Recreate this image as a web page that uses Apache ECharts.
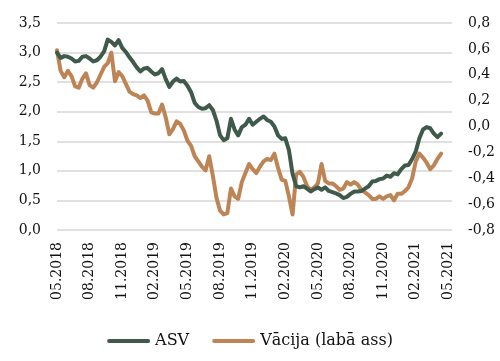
<!DOCTYPE html>
<html>
<head>
<meta charset="utf-8">
<script src="https://cdn.jsdelivr.net/npm/echarts@6/dist/echarts.min.js"></script>
<style>
html,body{margin:0;padding:0;background:#fff;}
#chart{width:500px;height:361px;}
</style>
</head>
<body>
<div id="chart"></div>
<script>
// Tick labels (every 3 months)
var tickLabels = ['05.2018','08.2018','11.2018','02.2019','05.2019','08.2019','11.2019',
  '02.2020','05.2020','08.2020','11.2020','02.2021','05.2021'];

// Categories: ten-day steps from 05.2018 to just past 05.2021
var categories = [];
(function(){
  var y = 2018, m = 5;
  for (var k = 0; k < 37; k++) {
    var days = ['01','11','21'];
    for (var d = 0; d < 3; d++) {
      categories.push(y + '-' + (m < 10 ? '0' + m : m) + '-' + days[d]);
    }
    m++; if (m > 12) { m = 1; y++; }
  }
  categories = categories.slice(0, 110);
})();

// ASV (left axis)
var asv = [3.00,2.91,2.94,2.93,2.90,2.85,2.86,2.93,2.94,2.90,
  2.85,2.87,2.93,3.02,3.22,3.18,3.12,3.21,3.08,3.01,
  2.92,2.84,2.75,2.68,2.73,2.74,2.68,2.63,2.65,2.72,
  2.55,2.42,2.51,2.56,2.51,2.52,2.44,2.33,2.15,2.08,
  2.05,2.06,2.11,2.03,1.85,1.60,1.52,1.55,1.88,1.70,
  1.60,1.74,1.78,1.88,1.78,1.83,1.88,1.92,1.86,1.83,
  1.75,1.60,1.54,1.55,1.35,0.95,0.74,0.72,0.74,0.70,
  0.65,0.69,0.72,0.68,0.72,0.66,0.64,0.62,0.59,0.54,
  0.56,0.61,0.65,0.65,0.66,0.70,0.74,0.82,0.83,0.86,
  0.87,0.92,0.90,0.96,0.94,1.03,1.09,1.10,1.20,1.33,
  1.55,1.70,1.74,1.72,1.63,1.57,1.63];

// Vācija (right axis)
var vacija = [0.59,0.43,0.38,0.43,0.39,0.31,0.30,0.37,0.41,0.32,
  0.30,0.34,0.40,0.46,0.49,0.57,0.35,0.42,0.39,0.33,
  0.27,0.25,0.24,0.22,0.24,0.20,0.11,0.10,0.10,0.17,
  0.07,-0.06,-0.02,0.04,0.02,-0.03,-0.11,-0.15,-0.23,-0.27,
  -0.31,-0.34,-0.23,-0.38,-0.55,-0.65,-0.68,-0.67,-0.48,-0.54,
  -0.56,-0.43,-0.36,-0.29,-0.33,-0.36,-0.31,-0.27,-0.25,-0.26,
  -0.21,-0.32,-0.41,-0.42,-0.54,-0.68,-0.37,-0.35,-0.39,-0.46,
  -0.49,-0.47,-0.44,-0.29,-0.42,-0.44,-0.44,-0.46,-0.49,-0.48,
  -0.43,-0.45,-0.43,-0.45,-0.49,-0.51,-0.53,-0.56,-0.56,-0.54,
  -0.56,-0.54,-0.53,-0.57,-0.52,-0.52,-0.50,-0.47,-0.40,-0.27,
  -0.21,-0.24,-0.28,-0.33,-0.30,-0.25,-0.21];

var seriesNames = ['ASV', 'Vācija (labā ass)'];
var colors = ['#3f5a4b', '#bd8555'];

var font = 'DejaVu Serif';
function fmt(v){ return v.toFixed(1).replace('.', ','); }
var capsule = 'path://M2,0H41A2,2,0,0,1,41,4H2A2,2,0,0,1,2,0Z';

var chart = echarts.init(document.getElementById('chart'), null, {renderer:'canvas'});
chart.setOption({
  animation: false,
  backgroundColor: '#fff',
  grid: {left: 57, right: 48, top: 23, bottom: 131, containLabel: false},
  legend: {
    top: 326, left: 'center',
    itemWidth: 43, itemHeight: 4, itemGap: 23,
    data: [{name: seriesNames[0], icon: capsule}, {name: seriesNames[1], icon: capsule}],
    textStyle: {fontFamily: font, fontSize: 16, color: '#111', lineHeight: 20}
  },
  xAxis: {
    type: 'category', data: categories, boundaryGap: false,
    axisLine: {show: false}, axisTick: {show: false},
    splitLine: {show: false},
    axisLabel: {
      rotate: 90, margin: 12, fontFamily: font, fontSize: 14, color: '#111',
      interval: function(i){ return i % 9 === 0 && i <= 108; },
      formatter: function(v, i){ return tickLabels[Math.round(i / 9)] || ''; }
    }
  },
  yAxis: [
    {type: 'value', min: 0, max: 3.5, interval: 0.5,
     axisLine: {show: false}, axisTick: {show: false},
     splitLine: {lineStyle: {color: '#d6d6d6', width: 1.5}},
     axisLabel: {margin: 16, fontFamily: font, fontSize: 14, color: '#111', formatter: fmt}},
    {type: 'value', min: -0.8, max: 0.8, interval: 0.2,
     axisLine: {show: false}, axisTick: {show: false},
     splitLine: {show: false},
     axisLabel: {margin: 16, fontFamily: font, fontSize: 14, color: '#111', formatter: fmt}}
  ],
  series: [
    {name: seriesNames[0], type: 'line', yAxisIndex: 0, data: asv, showSymbol: false,
     lineStyle: {color: colors[0], width: 4, cap: 'round', join: 'round'}, itemStyle: {color: colors[0]}, z: 3},
    {name: seriesNames[1], type: 'line', yAxisIndex: 1, data: vacija, showSymbol: false,
     lineStyle: {color: colors[1], width: 4, cap: 'round', join: 'round'}, itemStyle: {color: colors[1]}, z: 2}
  ]
});
</script>
</body>
</html>
